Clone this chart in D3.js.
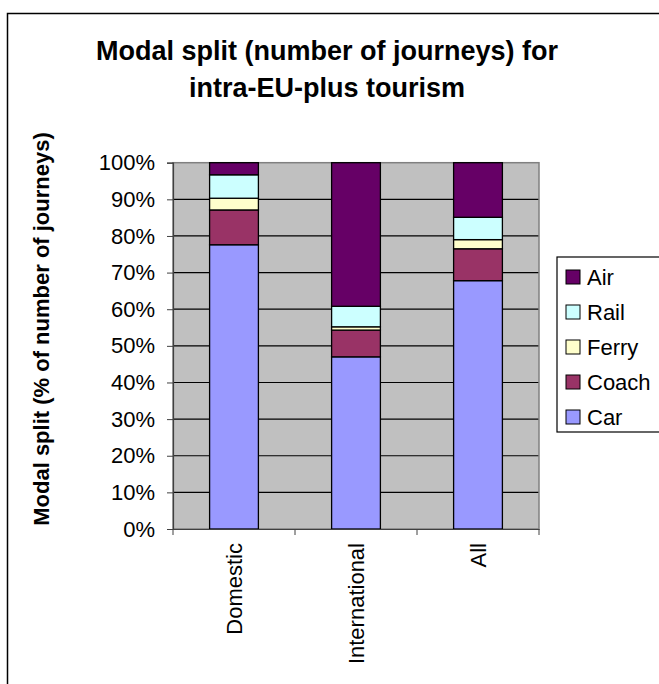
<!DOCTYPE html>
<html><head><meta charset="utf-8">
<script src="https://cdn.jsdelivr.net/npm/d3@7"></script>
<style>body{margin:0;background:#fff}svg{display:block}text{font-family:Arial,"Liberation Sans",sans-serif}</style>
</head><body>
<svg id="c" width="659" height="684"></svg>
<script>
const categories = ["Domestic", "International", "All"];
const seriesNames = ["Car", "Coach", "Ferry", "Rail", "Air"];
const car   = [77.6, 47.0, 67.8];
const coach = [9.5, 7.3, 8.7];
const ferry = [3.2, 0.9, 2.5];
const rail  = [6.4, 5.6, 6.1];
const air   = [3.3, 39.2, 14.9];
const yTicks = [0, 0.1, 0.2, 0.3, 0.4, 0.5, 0.6, 0.7, 0.8, 0.9, 1];
const colors = {Car:"#9999FF", Coach:"#993366", Ferry:"#FFFFCC", Rail:"#CCFFFF", Air:"#660066"};

const rows = categories.map((c,i)=>({cat:c, Car:car[i], Coach:coach[i], Ferry:ferry[i], Rail:rail[i], Air:air[i]}));
const stack = d3.stack().keys(seriesNames).offset(d3.stackOffsetExpand)(rows);

const svg = d3.select("#c");
const L=173, R=539, T=162.7, B=529;
const x = d3.scaleBand().domain(categories).range([L,R]).padding(0);
const y = d3.scaleLinear().domain([0,1]).range([B,T]);
const barW = x.bandwidth()*0.4;

// outer border
svg.append("rect").attr("x",7.5).attr("y",13.5).attr("width",700).attr("height",700)
  .attr("fill","#fff").attr("stroke","#000").attr("stroke-width",1.5);

// title
const title = svg.append("text").attr("text-anchor","middle").attr("font-weight","bold").attr("font-size",27).attr("fill","#000");
title.append("tspan").attr("x",327).attr("y",60).text("Modal split (number of journeys) for");
title.append("tspan").attr("x",327).attr("y",97).text("intra-EU-plus tourism");

// plot background
svg.append("rect").attr("x",L).attr("y",T).attr("width",R-L).attr("height",B-T).attr("fill","#C0C0C0");

// gridlines
svg.append("g").selectAll("line").data(yTicks.slice(1,-1)).join("line")
  .attr("x1",L).attr("x2",R).attr("y1",d=>y(d)).attr("y2",d=>y(d))
  .attr("stroke","#000").attr("stroke-width",1.2);
svg.append("rect").attr("x",L).attr("y",T).attr("width",R-L).attr("height",B-T)
  .attr("fill","none").attr("stroke","#808080").attr("stroke-width",1.5);

// bars
svg.append("g").selectAll("g").data(stack).join("g").attr("fill",d=>colors[d.key])
  .selectAll("rect").data(d=>d).join("rect")
  .attr("x",d=>x(d.data.cat)+(x.bandwidth()-barW)/2)
  .attr("width",barW)
  .attr("y",d=>y(d[1]))
  .attr("height",d=>y(d[0])-y(d[1]))
  .attr("stroke","#000").attr("stroke-width",1.3);

// y axis
const yAxis = d3.axisLeft(y).tickValues(yTicks).tickFormat(d3.format(".0%")).tickSize(6).tickPadding(12);
const ya = svg.append("g").attr("transform",`translate(${L},0)`).call(yAxis);
ya.select(".domain").attr("stroke","#404040").attr("stroke-width",1.2);
ya.selectAll(".tick line").attr("stroke","#404040");
ya.selectAll("text").attr("font-size",22).attr("font-family","Arial, 'Liberation Sans', sans-serif").attr("fill","#000");

// x axis
const xAxis = d3.axisBottom(x).tickSize(0).tickFormat("");
const xa = svg.append("g").attr("transform",`translate(0,${B})`).call(xAxis);
xa.select(".domain").attr("stroke","#404040").attr("stroke-width",1.2);
xa.selectAll(".xt").data(d3.range(categories.length+1)).join("line")
  .attr("x1",i=>L+i*x.step()).attr("x2",i=>L+i*x.step()).attr("y1",0).attr("y2",6)
  .attr("stroke","#404040");
svg.append("g").selectAll("text").data(categories).join("text")
  .attr("transform",d=>`translate(${x(d)+x.bandwidth()/2},543) rotate(-90)`)
  .attr("text-anchor","end").attr("dy","0.35em").attr("font-size",22).attr("fill","#000").text(d=>d);

// y title
svg.append("text").attr("transform","translate(41,329) rotate(-90)").attr("text-anchor","middle")
  .attr("dy","0.35em").attr("font-weight","bold").attr("font-size",22).attr("fill","#000")
  .text("Modal split (% of number of journeys)");

// legend
const leg = svg.append("g");
leg.append("rect").attr("x",557).attr("y",257).attr("width",140).attr("height",175)
  .attr("fill","#fff").attr("stroke","#000").attr("stroke-width",1.2);
const legItems = seriesNames.slice().reverse();
const li = leg.selectAll("g.li").data(legItems).join("g").attr("class","li")
  .attr("transform",(d,i)=>`translate(0,${277+i*35})`);
li.append("rect").attr("x",566).attr("y",-7).attr("width",14).attr("height",14)
  .attr("fill",d=>colors[d]).attr("stroke","#000").attr("stroke-width",1);
li.append("text").attr("x",587).attr("dy","0.35em").attr("font-size",22).attr("fill","#000").text(d=>d);
</script>
</body></html>
